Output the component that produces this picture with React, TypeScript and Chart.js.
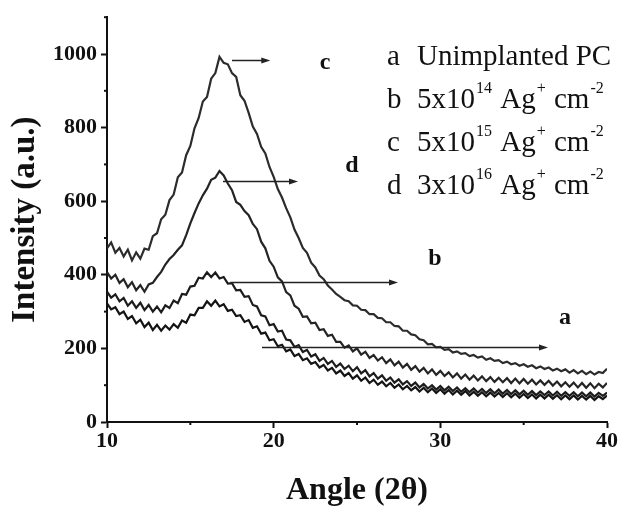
import React, { useEffect, useRef } from 'react';
import { Chart, registerables } from 'chart.js';

Chart.register(...registerables);

const FONT = "'Liberation Serif', 'Times New Roman', serif";

// Sampling grid of the diffractograms (2θ, degrees)
const ANGLE_START = 10;
const ANGLE_STEP = 0.25;

// a: Unimplanted PC
const SERIES_A = [
  322, 306, 312, 293, 300, 280, 288, 268,
  278, 258, 270, 250, 264, 248, 262, 251,
  266, 256, 276, 270, 292, 290, 310, 310,
  328, 316, 330, 314, 320, 302, 305, 288,
  290, 272, 277, 256, 260, 240, 243, 222,
  225, 206, 210, 192, 197, 179, 185, 168,
  173, 158, 163, 148, 155, 140, 147, 132,
  140, 125, 133, 118, 127, 112, 121, 106,
  115, 101, 110, 97, 106, 93, 102, 89,
  98, 86, 95, 83, 93, 81, 91, 79,
  89, 77, 87, 75, 85, 74, 84, 72,
  82, 71, 81, 70, 80, 69, 79, 68,
  78, 67, 77, 66, 76, 65, 75, 64,
  74, 64, 74, 63, 73, 62, 72, 62,
  72, 61, 71, 61, 71, 60, 70, 62,
  72,
];

// b: 5x10^14 Ag+ cm-2
const SERIES_B = [
  354, 338, 347, 328, 337, 316, 328, 310,
  324, 304, 318, 300, 314, 298, 317, 310,
  330, 323, 348, 346, 368, 370, 392, 390,
  407, 394, 406, 390, 394, 376, 377, 358,
  359, 340, 342, 318, 314, 290, 287, 263,
  266, 246, 248, 224, 222, 204, 209, 190,
  196, 178, 184, 166, 174, 158, 166, 150,
  159, 144, 153, 138, 149, 132, 141, 124,
  133, 118, 127, 112, 121, 107, 116, 102,
  111, 98, 107, 94, 103, 91, 100, 88,
  98, 86, 96, 84, 94, 82, 92, 81,
  91, 80, 90, 79, 89, 78, 88, 77,
  87, 76, 86, 75, 85, 74, 84, 73,
  83, 73, 83, 72, 82, 71, 81, 71,
  81, 70, 80, 70, 80, 69, 79, 71,
  80,
];

// c: 5x10^15 Ag+ cm-2
const SERIES_C = [
  472, 488, 460, 473, 450, 468, 439, 461,
  444, 471, 468, 505, 513, 551, 563, 603,
  618, 665, 678, 725, 750, 798, 826, 871,
  883, 933, 948, 992, 976, 972, 948, 938,
  888, 873, 840, 803, 783, 748, 730, 693,
  666, 633, 610, 581, 556, 523, 500, 473,
  460, 433, 420, 398, 388, 371, 360, 348,
  340, 331, 328, 317, 316, 305, 304, 293,
  293, 283, 282, 271, 271, 261, 260, 248,
  248, 238, 236, 225, 222, 211, 212, 203,
  204, 196, 198, 189, 192, 185, 187, 179,
  182, 175, 178, 169, 173, 166, 168, 160,
  164, 157, 160, 153, 157, 150, 154, 146,
  151, 144, 148, 140, 145, 138, 143, 134,
  141, 132, 139, 130, 137, 129, 136, 133,
  145,
];

// d: 3x10^16 Ag+ cm-2
const SERIES_D = [
  407, 390, 400, 378, 388, 366, 380, 358,
  372, 354, 374, 378, 394, 408, 428, 443,
  454, 468, 480, 508, 540, 568, 594, 616,
  634, 658, 664, 682, 670, 648, 630, 598,
  590, 573, 562, 538, 524, 490, 472, 438,
  422, 393, 382, 353, 344, 316, 308, 286,
  287, 268, 270, 250, 252, 234, 237, 218,
  218, 202, 208, 192, 200, 183, 191, 174,
  182, 167, 176, 160, 170, 154, 164, 148,
  158, 142, 152, 137, 147, 132, 143, 128,
  139, 125, 135, 121, 132, 118, 129, 115,
  126, 113, 124, 111, 122, 109, 120, 108,
  119, 106, 118, 105, 117, 104, 115, 102,
  113, 101, 112, 99, 110, 97, 108, 96,
  107, 94, 106, 93, 105, 92, 104, 94,
  106,
];

const ANGLES = SERIES_A.map((_, i) => ANGLE_START + i * ANGLE_STEP);

const X_MIN = 10;
const X_MAX = 40;
const X_STEP = 5;
const X_LABEL_EVERY = 10;
const Y_MIN = 0;
const Y_MAX = 1100;
const Y_STEP = 100;
const Y_LABEL_EVERY = 200;

// Curve letters placed in data coordinates
const CURVE_LETTERS = ['c', 'd', 'b', 'a'];
const CURVE_LETTER_X = [23.08, 24.7, 29.68, 37.48];
const CURVE_LETTER_Y = [976, 695, 443, 284];

// Horizontal arrows (data coordinates)
const ARROW_Y = [984, 654, 381, 205];
const ARROW_X0 = [17.5, 16.96, 17.4, 19.3];
const ARROW_X1 = [19.8, 21.46, 27.46, 36.46];

// Legend text
const LEGEND_KEYS = ['a', 'b', 'c', 'd'];
const LEGEND_PARTS: [string, boolean][][] = [
  [['Unimplanted PC', false]],
  [['5x10', false], ['14', true], [' Ag', false], ['+', true], [' cm', false], ['-2', true]],
  [['5x10', false], ['15', true], [' Ag', false], ['+', true], [' cm', false], ['-2', true]],
  [['3x10', false], ['16', true], [' Ag', false], ['+', true], [' cm', false], ['-2', true]],
];

const SERIES = [
  { label: 'a', data: SERIES_A, color: '#141414' },
  { label: 'b', data: SERIES_B, color: '#1c1c1c' },
  { label: 'c', data: SERIES_C, color: '#2c2c2c' },
  { label: 'd', data: SERIES_D, color: '#242424' },
];

const decorPlugin = {
  id: 'decor',
  afterDatasetsDraw(chart: any) {
    const { ctx, scales, chartArea } = chart;
    const xs = scales.x;
    const ys = scales.y;
    ctx.save();
    ctx.strokeStyle = '#111';
    ctx.fillStyle = '#111';

    // minor ticks
    ctx.lineWidth = 2;
    for (let v = X_MIN; v <= X_MAX; v += X_STEP) {
      if (v % X_LABEL_EVERY === 0) continue;
      const px = xs.getPixelForValue(v);
      ctx.beginPath();
      ctx.moveTo(px, chartArea.bottom);
      ctx.lineTo(px, chartArea.bottom + 3);
      ctx.stroke();
    }
    for (let v = Y_MIN; v <= Y_MAX; v += Y_STEP) {
      if (v % Y_LABEL_EVERY === 0) continue;
      const py = ys.getPixelForValue(v);
      ctx.beginPath();
      ctx.moveTo(chartArea.left - 3, py);
      ctx.lineTo(chartArea.left, py);
      ctx.stroke();
    }

    // arrows
    ctx.lineWidth = 1.5;
    ctx.strokeStyle = '#222';
    ctx.fillStyle = '#222';
    for (let i = 0; i < ARROW_Y.length; i++) {
      const y = Math.round(ys.getPixelForValue(ARROW_Y[i])) + 0.5;
      const x0 = xs.getPixelForValue(ARROW_X0[i]);
      const x1 = xs.getPixelForValue(ARROW_X1[i]);
      ctx.beginPath();
      ctx.moveTo(x0, y);
      ctx.lineTo(x1 - 6, y);
      ctx.stroke();
      ctx.beginPath();
      ctx.moveTo(x1, y);
      ctx.lineTo(x1 - 9, y - 3);
      ctx.lineTo(x1 - 9, y + 3);
      ctx.closePath();
      ctx.fill();
    }

    // curve letters
    ctx.fillStyle = '#111';
    ctx.font = `bold 24px ${FONT}`;
    ctx.textAlign = 'center';
    ctx.textBaseline = 'middle';
    for (let i = 0; i < CURVE_LETTERS.length; i++) {
      ctx.fillText(
        CURVE_LETTERS[i],
        xs.getPixelForValue(CURVE_LETTER_X[i]),
        ys.getPixelForValue(CURVE_LETTER_Y[i])
      );
    }

    // legend
    ctx.textAlign = 'left';
    ctx.textBaseline = 'alphabetic';
    const lx = 387;
    const tx = 417;
    const firstBaseline = 65;
    const lineStep = 43;
    for (let i = 0; i < LEGEND_KEYS.length; i++) {
      const by = firstBaseline + i * lineStep;
      ctx.font = `29px ${FONT}`;
      ctx.fillText(LEGEND_KEYS[i], lx, by);
      let x = tx;
      for (const [txt, sup] of LEGEND_PARTS[i]) {
        if (sup) {
          ctx.font = `16px ${FONT}`;
          ctx.fillText(txt, x + 1, by - 15);
          x += ctx.measureText(txt).width + 2;
        } else {
          ctx.font = `29px ${FONT}`;
          ctx.fillText(txt, x, by);
          x += ctx.measureText(txt).width;
        }
      }
    }
    ctx.restore();
  },
};

export default function App() {
  const canvasRef = useRef<HTMLCanvasElement | null>(null);

  useEffect(() => {
    const canvas = canvasRef.current;
    if (!canvas) return;
    const tickFont = { family: FONT, size: 22, weight: 'bold' as const };
    const titleFont = { family: FONT, size: 32, weight: 'bold' as const };
    const chart = new Chart(canvas, {
      type: 'line',
      data: {
        datasets: SERIES.map((s) => ({
          label: s.label,
          data: s.data.map((v, i) => ({ x: ANGLES[i], y: v })),
          borderColor: s.color,
          borderWidth: 2.2,
          pointRadius: 0,
          fill: false,
          tension: 0,
        })),
      },
      options: {
        responsive: false,
        animation: false,
        devicePixelRatio: 1,
        layout: { padding: { left: 0, right: 12, top: 15, bottom: 0 } },
        plugins: {
          legend: { display: false },
          tooltip: { enabled: false },
        },
        scales: {
          x: {
            type: 'linear',
            min: X_MIN,
            max: X_MAX,
            ticks: {
              stepSize: X_STEP,
              autoSkip: false,
              maxRotation: 0,
              padding: 0,
              color: '#111',
              font: tickFont,
              callback: (v: any) => (Number(v) % X_LABEL_EVERY === 0 ? String(v) : ''),
            },
            grid: {
              drawOnChartArea: false,
              drawTicks: true,
              tickLength: 6,
              tickWidth: 2,
              tickColor: (c: any) =>
                c.tick && c.tick.value % X_LABEL_EVERY === 0 ? '#111' : 'rgba(0,0,0,0)',
            },
            border: { display: true, color: '#111', width: 2 },
            title: {
              display: true,
              text: 'Angle (2θ)',
              color: '#111',
              font: titleFont,
              padding: { top: 0, bottom: -4 },
            },
            afterFit: (s: any) => {
              s.height = 84;
            },
          },
          y: {
            type: 'linear',
            min: Y_MIN,
            max: Y_MAX,
            ticks: {
              stepSize: Y_STEP,
              autoSkip: false,
              padding: 4,
              color: '#111',
              font: tickFont,
              callback: (v: any) => (Number(v) % Y_LABEL_EVERY === 0 ? String(v) : ''),
            },
            grid: {
              drawOnChartArea: false,
              drawTicks: true,
              tickLength: 6,
              tickWidth: 2,
              tickColor: (c: any) =>
                c.tick && c.tick.value % Y_LABEL_EVERY === 0 ? '#111' : 'rgba(0,0,0,0)',
            },
            border: { display: true, color: '#111', width: 2 },
            title: {
              display: true,
              text: 'Intensity (a.u.)',
              color: '#111',
              font: { family: FONT, size: 33, weight: 'bold' as const },
              padding: { top: 6, bottom: 0 },
            },
            afterFit: (s: any) => {
              s.width = 107;
            },
          },
        },
      },
      plugins: [decorPlugin],
    });
    return () => chart.destroy();
  }, []);

  return (
    <div style={{ position: 'fixed', left: 0, top: 0, width: 619, height: 506, background: '#fff' }}>
      <canvas ref={canvasRef} width={619} height={506} style={{ width: 619, height: 506, display: 'block' }} />
    </div>
  );
}
